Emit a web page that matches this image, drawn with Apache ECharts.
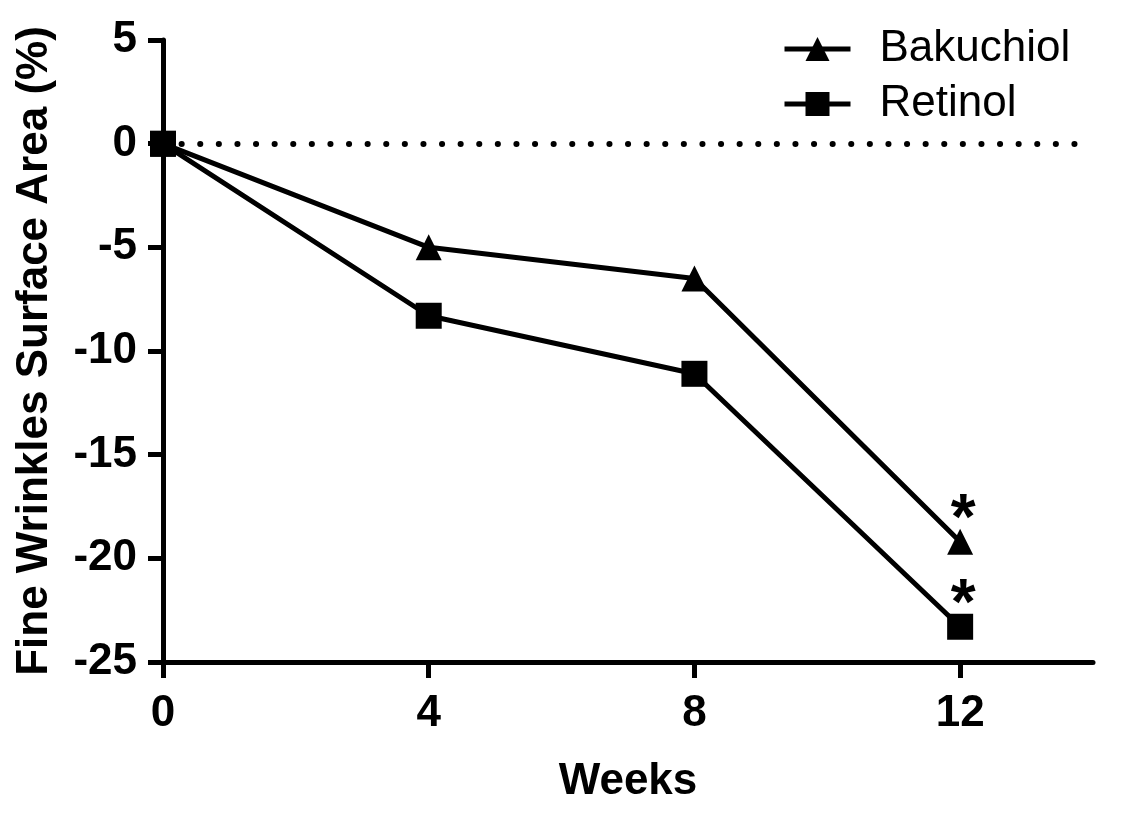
<!DOCTYPE html>
<html>
<head>
<meta charset="utf-8">
<script src="https://cdn.jsdelivr.net/npm/echarts@6/dist/echarts.min.js"></script>
<style>
  html, body { margin: 0; padding: 0; background: #fff; }
  #main { width: 1128px; height: 826px; }
</style>
</head>
<body>
<div id="main"></div>
<script>
var weeks = [0, 4, 8, 12];
var bakuchiol = [0, -5.0, -6.5, -19.2];
var retinol = [0, -8.3, -11.1, -23.3];
var significant = [false, false, false, true];
var xTicks = [0, 4, 8, 12];

var font = 'Liberation Sans, Arial, Helvetica, sans-serif';

function points(values) {
  return weeks.map(function (w, i) {
    return { value: [w, values[i]], label: { show: significant[i] } };
  });
}

// the "*" sits right above the week-12 marker
var starLabel = {
  position: 'top',
  distance: -25,
  offset: [3, 0],
  formatter: '*',
  color: '#000',
  fontFamily: font,
  fontWeight: 'bold',
  fontSize: 64
};

var myChart = echarts.init(document.getElementById('main'));
myChart.setOption({
  animation: false,
  backgroundColor: '#fff',
  grid: { left: 163, right: 35, top: 40, bottom: 164, containLabel: false },
  legend: {
    orient: 'vertical',
    left: 777,
    top: 22,
    itemWidth: 66,
    itemHeight: 30,
    itemGap: 11,
    selectedMode: false,
    lineStyle: { width: 5, color: '#000' },
    textStyle: {
      color: '#000',
      fontFamily: font,
      fontSize: 44,
      lineHeight: 44,
      padding: [0, 0, 0, 24]
    },
    data: ['Bakuchiol', 'Retinol']
  },
  xAxis: {
    type: 'value',
    min: 0,
    max: 14,
    interval: 4,
    name: 'Weeks',
    nameLocation: 'middle',
    nameGap: 98,
    nameTextStyle: { color: '#000', fontFamily: font, fontWeight: 'bold', fontSize: 44 },
    axisLine: { onZero: false, lineStyle: { color: '#000', width: 5 } },
    axisTick: { length: 16, lineStyle: { color: '#000', width: 5 }, customValues: xTicks },
    axisLabel: { margin: 30, color: '#000', fontFamily: font, fontWeight: 'bold', fontSize: 44, customValues: xTicks },
    splitLine: { show: false }
  },
  yAxis: {
    type: 'value',
    min: -25,
    max: 5,
    interval: 5,
    name: 'Fine Wrinkles Surface Area (%)',
    nameLocation: 'middle',
    nameGap: 106,
    nameTextStyle: { color: '#000', fontFamily: font, fontWeight: 'bold', fontSize: 44 },
    axisLine: { show: true, lineStyle: { color: '#000', width: 5 } },
    axisTick: { show: true, length: 15, lineStyle: { color: '#000', width: 5 } },
    axisLabel: { margin: 26, color: '#000', fontFamily: font, fontWeight: 'bold', fontSize: 44 },
    splitLine: { show: false }
  },
  series: [
    {
      name: 'Bakuchiol',
      type: 'line',
      data: points(bakuchiol),
      symbol: 'triangle',
      symbolSize: 26,
      color: '#000',
      itemStyle: { color: '#000', borderWidth: 0 },
      lineStyle: { color: '#000', width: 5 },
      label: starLabel,
      emphasis: { disabled: true },
      markLine: {
        silent: true,
        symbol: 'none',
        label: { show: false },
        lineStyle: { color: '#000', width: 6, type: [0.1, 18.5], cap: 'round' },
        data: [{ yAxis: 0 }]
      },
      z: 3
    },
    {
      name: 'Retinol',
      type: 'line',
      data: points(retinol),
      symbol: 'rect',
      symbolSize: 26,
      color: '#000',
      itemStyle: { color: '#000', borderWidth: 0 },
      lineStyle: { color: '#000', width: 5 },
      label: starLabel,
      emphasis: { disabled: true },
      z: 3
    }
  ]
});
</script>
</body>
</html>
